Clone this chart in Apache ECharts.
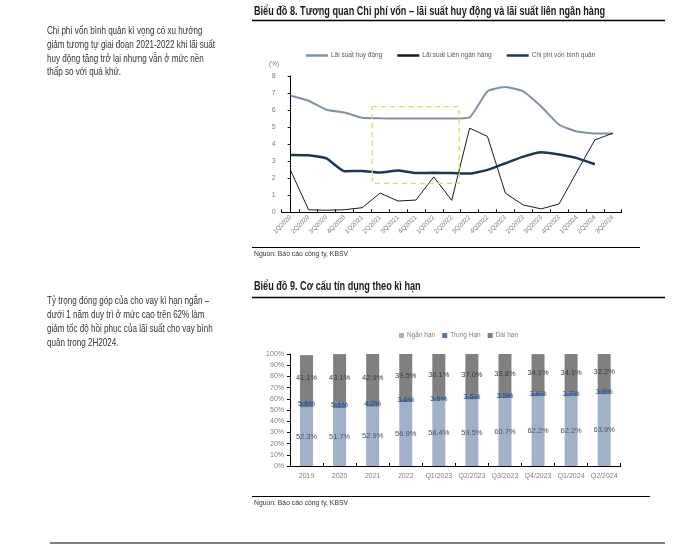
<!DOCTYPE html>
<html><head><meta charset="utf-8">
<script src="https://cdn.jsdelivr.net/npm/echarts@6/dist/echarts.min.js"></script>
<style>html,body{margin:0;padding:0;background:#fff}#c{width:683px;height:546px}</style>
</head><body><div id="c"></div>
<script>
var FONT = '"Liberation Sans",Arial,sans-serif';
// Chart 8
var quarters = ['1Q2020','2Q2020','3Q2020','4Q2020','1Q2021','2Q2021','3Q2021','4Q2021','1Q2022','2Q2022','3Q2022','4Q2022','1Q2023','2Q2023','3Q2023','4Q2023','1Q2024','2Q2024','3Q2024'];
var depositRate = [6.84,6.55,6.02,5.86,5.55,5.52,5.5,5.5,5.5,5.5,5.57,7.1,7.35,7.1,6.21,5.14,4.74,4.63,4.63];
var interbankRate = [2.45,0.15,0.12,0.15,0.27,1.13,0.66,0.72,2.08,0.7,4.94,4.45,1.12,0.43,0.2,0.49,2.39,4.25,4.64];
var costOfFunds = [3.37,3.35,3.16,2.41,2.43,2.33,2.45,2.3,2.32,2.3,2.27,2.49,2.88,3.27,3.53,3.39,3.18,2.82,null];
var highlightBox = [[4.56,6.2],[9.42,6.2],[9.42,1.7],[4.56,1.7],[4.56,6.2]];
// Chart 9
var periods = ['2019','2020','2021','2022','Q1/2023','Q2/2023','Q3/2023','Q4/2023','Q1/2024','Q2/2024'];
var shortTerm = [52.3,51.7,52.9,56.9,58.4,59.5,60.7,62.2,62.2,63.9];
var mediumTerm = [5.6,5.1,4.2,3.6,3.5,3.5,3.5,3.6,3.7,3.9];
var longTerm = [41.1,43.1,42.9,39.5,38.1,37.0,35.8,34.1,34.1,32.2];

var chart = echarts.init(document.getElementById('c'), null, {renderer:'canvas'});
var axisGray = '#7f7f7f';
function txt(x,y,s,font,sx,fill){return {type:'text',x:x,y:y,scaleX:sx,scaleY:1,style:{text:s,font:font,fill:fill||'#333',textVerticalAlign:'middle',textAlign:'left'}};}
function hline(x1,x2,y,w){return {type:'line',shape:{x1:x1,y1:y,x2:x2,y2:y},style:{stroke:'#000',lineWidth:w||1}};}
var lbl = function(color){return {show:true,position:'inside',fontSize:7.5,fontFamily:FONT,color:color,formatter:function(p){return p.value.toFixed(1)+'%';}};};
var bodyFont = '10.5px '+FONT, bodySX = 0.77;
var titleFont = 'bold 12px '+FONT, titleSX = 0.76;
chart.setOption({
  animation:false,
  textStyle:{fontFamily:FONT},
  graphic:[
    txt(47,31,'Chi phí vốn bình quân kì vọng có xu hướng',bodyFont,bodySX),
    txt(47,45,'giảm tương tự giai đoạn 2021-2022 khi lãi suất',bodyFont,bodySX),
    txt(47,59,'huy động tăng trở lại nhưng vẫn ở mức nền',bodyFont,bodySX),
    txt(47,72.5,'thấp so với quá khứ.',bodyFont,bodySX),
    txt(254,12,'Biểu đồ 8. Tương quan Chi phí vốn – lãi suất huy động và lãi suất liên ngân hàng',titleFont,titleSX,'#1a1a1a'),
    hline(252,665,20.5,1.5),
    txt(269,64.5,'(%)','6.5px '+FONT,1,axisGray),
    hline(252,640,247.5,1),
    txt(254,253.5,'Nguồn: Báo cáo công ty, KBSV','8px '+FONT,0.85),
    txt(47,301,'Tỷ trọng đóng góp của cho vay kì hạn ngắn –',bodyFont,bodySX),
    txt(47,315,'dưới 1 năm duy trì ở mức cao trên 62% làm',bodyFont,bodySX),
    txt(47,329,'giảm tốc độ hồi phục của lãi suất cho vay bình',bodyFont,bodySX),
    txt(47,343,'quân trong 2H2024.',bodyFont,bodySX),
    txt(254,287,'Biểu đồ 9. Cơ cấu tín dụng theo kì hạn',titleFont,titleSX,'#1a1a1a'),
    hline(252,665,297.5,1.5),
    hline(252,650,496.5,1),
    txt(254,502.5,'Nguồn: Báo cáo công ty, KBSV','8px '+FONT,0.85),
    hline(50,665,543,1.2)
  ],
  legend:[
    {data:['Lãi suất huy động','Lãi suất Liên ngân hàng','Chi phí vốn bình quân'],left:301,top:47,itemWidth:22,itemHeight:2.5,itemGap:15,icon:'rect',
      textStyle:{fontSize:6.5,color:'#595959',fontFamily:FONT,padding:[0,0,0,-2]}},
    {data:['Ngắn hạn','Trung Hạn','Dài hạn'],left:394,top:327,itemWidth:5,itemHeight:5,itemGap:7,icon:'rect',
      textStyle:{fontSize:6.5,color:'#7f7f7f',fontFamily:FONT,padding:[0,0,0,-2]}}
  ],
  grid:[
    {left:281.7,right:61.3,top:76,bottom:333.7},
    {left:290,right:62.3,top:354,bottom:80}
  ],
  xAxis:[
    {type:'category',gridIndex:0,data:quarters,boundaryGap:true,
      axisLine:{lineStyle:{color:'#000',width:1}},axisTick:{show:true,inside:true,length:3,lineStyle:{color:'#000'}},
      axisLabel:{rotate:45,fontSize:6.5,color:axisGray,margin:4,interval:0}},
    {type:'value',gridIndex:0,min:-0.5,max:18.5,show:false},
    {type:'category',gridIndex:1,data:periods,
      axisLine:{lineStyle:{color:'#000',width:1}},axisTick:{show:true,inside:true,length:3,lineStyle:{color:'#000'}},
      axisLabel:{fontSize:7,color:axisGray,margin:7,interval:0}}
  ],
  yAxis:[
    {type:'value',gridIndex:0,min:0,max:8,interval:1,
      axisLine:{show:true,lineStyle:{color:'#000'}},axisTick:{show:true,length:3,lineStyle:{color:'#000'}},
      splitLine:{show:false},axisLabel:{fontSize:7,color:axisGray,margin:6}},
    {type:'value',gridIndex:1,min:0,max:100,interval:10,
      axisLine:{show:true,lineStyle:{color:'#000'}},axisTick:{show:true,length:3,lineStyle:{color:'#000'}},
      splitLine:{show:false},axisLabel:{fontSize:7,color:axisGray,margin:6,formatter:'{value}%'}}
  ],
  series:[
    {name:'Lãi suất huy động',type:'line',xAxisIndex:0,yAxisIndex:0,data:depositRate,symbol:'none',smooth:0.15,
      lineStyle:{color:'#7e92a7',width:2},itemStyle:{color:'#7e92a7'}},
    {name:'Lãi suất Liên ngân hàng',type:'line',xAxisIndex:0,yAxisIndex:0,data:interbankRate,symbol:'none',
      lineStyle:{color:'#1a1a1a',width:1},itemStyle:{color:'#1a1a1a'}},
    {name:'Chi phí vốn bình quân',type:'line',xAxisIndex:0,yAxisIndex:0,data:costOfFunds,symbol:'none',smooth:0.15,
      lineStyle:{color:'#1d3654',width:2.5},itemStyle:{color:'#1d3654'}},
    {name:'box',type:'line',xAxisIndex:1,yAxisIndex:0,data:highlightBox,symbol:'none',silent:true,
      lineStyle:{color:'#e6d56a',width:1.3,type:[5,4]}},
    {name:'Ngắn hạn',type:'bar',stack:'s',xAxisIndex:2,yAxisIndex:1,data:shortTerm,barWidth:13,
      itemStyle:{color:'#a0b1c9'},label:lbl('#4a5260')},
    {name:'Trung Hạn',type:'bar',stack:'s',xAxisIndex:2,yAxisIndex:1,data:mediumTerm,barWidth:13,
      itemStyle:{color:'#5a789f'},label:lbl('#2e4a72')},
    {name:'Dài hạn',type:'bar',stack:'s',xAxisIndex:2,yAxisIndex:1,data:longTerm,barWidth:13,
      itemStyle:{color:'#808080'},label:lbl('#3a3a3a')}
  ]
});
</script></body></html>
